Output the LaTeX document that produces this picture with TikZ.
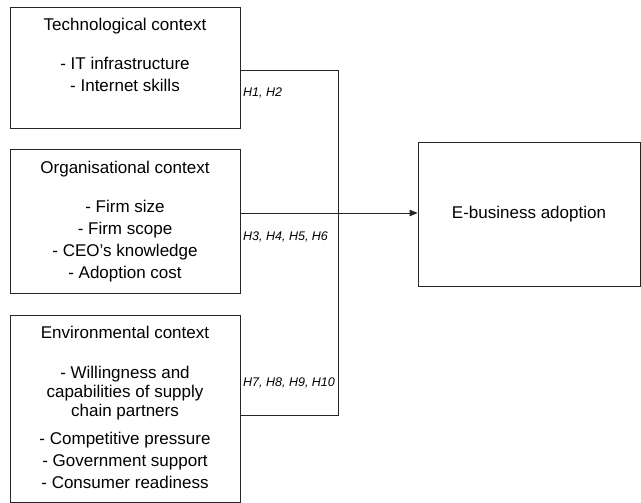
\documentclass[tikz,border=0pt]{standalone}
\usepackage{fontspec}
\setmainfont{Liberation Sans}
\usetikzlibrary{positioning,arrows.meta}
\tikzset{
  ctx/.style={draw=black!85, line width=0.8pt, minimum width=230pt, inner sep=0pt},
  ctxtitle/.style={font=\fontsize{17}{19}\selectfont, anchor=base, inner sep=0pt},
  ctxitems/.style={font=\fontsize{17}{19}\selectfont, align=center, anchor=north, inner sep=0pt},
  hyp/.style={font=\fontsize{12.5}{15}\selectfont\itshape, anchor=west, inner sep=0pt},
  link/.style={draw=black!85, line width=0.8pt},
  flow/.style={link, -{Triangle[length=8pt,width=6.5pt]}},
}
\begin{document}
\begin{tikzpicture}[x=1pt,y=-1pt]
  \useasboundingbox (0,0) rectangle (641,503);
  % technological
  \node[ctx, minimum height=121pt] (tech) at (125,67.5) {};
  \node[ctxtitle] (techtitle) at ([yshift=-24pt]tech.north) {Technological context};
  \node[ctxitems] (techitems) at ([yshift=-50pt]tech.north) {- IT infrastructure\\[3pt]- Internet skills};
  % organisational
  \node[ctx, minimum height=144pt] (org) at (125,221) {};
  \node[ctxtitle] (orgtitle) at ([yshift=-25pt]org.north) {Organisational context};
  \node[ctxitems] (orgitems) at ([yshift=-51pt]org.north) {- Firm size\\[3pt]- Firm scope\\[3pt]- CEO’s knowledge\\[3pt]- Adoption cost};
  % environmental
  \node[ctx, minimum height=187pt] (env) at (125,408.5) {};
  \node[ctxtitle] (envtitle) at ([yshift=-24pt]env.north) {Environmental context};
  \node[ctxitems] (envitems) at ([yshift=-51pt]env.north) {- Willingness and\\capabilities of supply\\chain partners\\[9pt]- Competitive pressure\\[3pt]- Government support\\[3pt]- Consumer readiness};
  % outcome
  \node[ctx, minimum width=222pt, minimum height=144pt, font=\fontsize{17}{19}\selectfont] (ebiz) at (529,214) {E-business adoption};
  % links
  \coordinate (techout) at ([yshift=-2.5pt]tech.east);
  \coordinate (orgout) at ([yshift=8pt]org.east);
  \coordinate (envout) at ([yshift=-6.5pt]env.east);
  \coordinate (bus) at (338,0);
  \draw[link] (techout) -| (bus |- envout) -- (envout);
  \draw[flow] (orgout) -- (orgout -| ebiz.west);
  \node[hyp] (h12) at (243,93) {H1, H2};
  \node[hyp] (h36) at (243,237) {H3, H4, H5, H6};
  \node[hyp] (h710) at (243,383) {H7, H8, H9, H10};
\end{tikzpicture}
\end{document}
